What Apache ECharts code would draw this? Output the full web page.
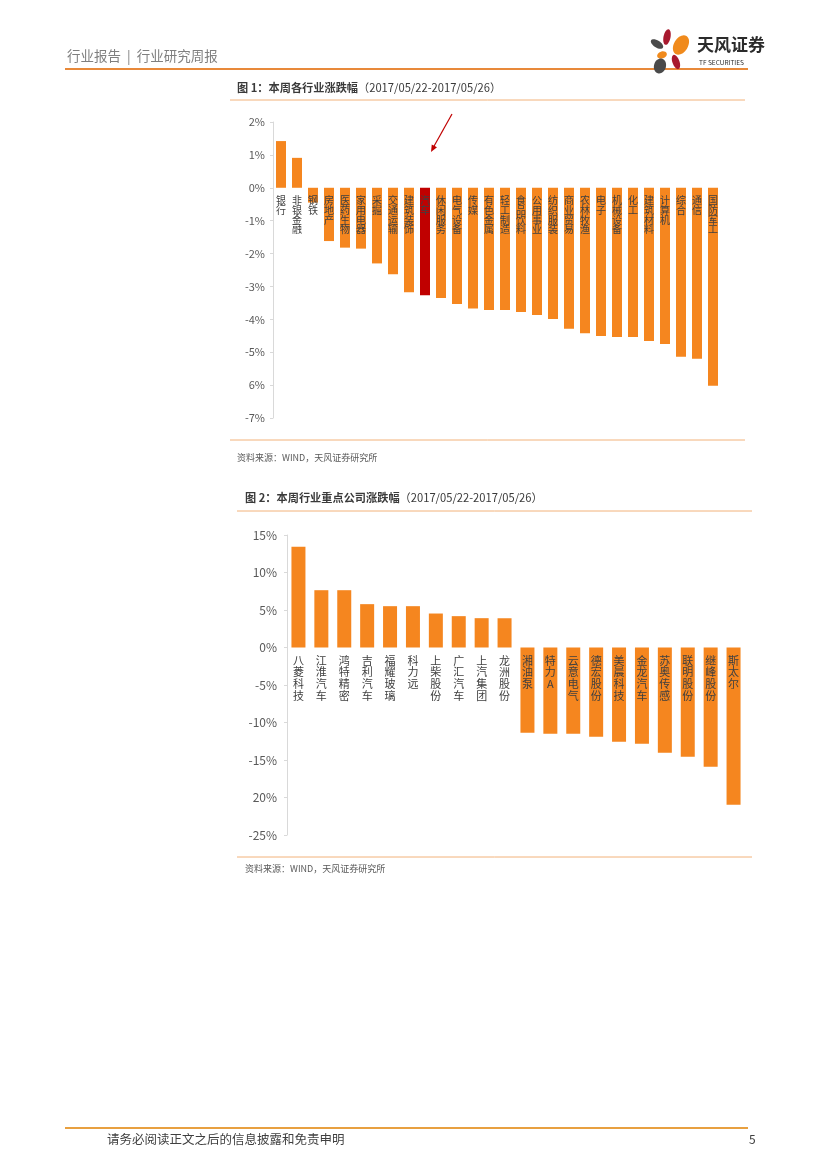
<!DOCTYPE html>
<html>
<head>
<meta charset="utf-8">
<script src="https://cdn.jsdelivr.net/npm/echarts@6/dist/echarts.min.js"></script>
<style>
html,body{margin:0;padding:0;background:#fff;}
#main{width:827px;height:1169px;}
</style>
</head>
<body>
<div id="main"></div>
<script>
// ---- Figure 1 data ----
const industryNames = ['银行','非银金融','钢铁','房地产','医药生物','家用电器','采掘','交通运输','建筑装饰','汽车','休闲服务','电气设备','传媒','有色金属','轻工制造','食品饮料','公用事业','纺织服装','商业贸易','农林牧渔','电子','机械设备','化工','建筑材料','计算机','综合','通信','国防军工'];
const industryChanges = [1.42,0.91,-0.45,-1.62,-1.82,-1.85,-2.30,-2.63,-3.18,-3.27,-3.35,-3.53,-3.67,-3.72,-3.72,-3.78,-3.87,-3.99,-4.29,-4.42,-4.51,-4.54,-4.54,-4.66,-4.75,-5.14,-5.20,-6.02];
const highlightIndustry = '汽车';
const fig1TickLabels = {'2':'2%','1':'1%','0':'0%','-1':'-1%','-2':'-2%','-3':'-3%','-4':'-4%','-5':'-5%','-6':'6%','-7':'-7%'};
const fig1Min = -7, fig1Max = 2;

// ---- Figure 2 data ----
const companyNames = ['八菱科技','江淮汽车','鸿特精密','吉利汽车','福耀玻璃','科力远','上柴股份','广汇汽车','上汽集团','龙洲股份','湘油泵','特力A','云意电气','德宏股份','美晨科技','金龙汽车','苏奥传感','联明股份','继峰股份','斯太尔'];
const companyChanges = [13.42,7.64,7.64,5.78,5.51,5.51,4.53,4.18,3.91,3.90,-11.38,-11.51,-11.51,-11.91,-12.58,-12.84,-14.04,-14.58,-15.91,-20.98];
const fig2TickLabels = {'15':'15%','10':'10%','5':'5%','0':'0%','-5':'-5%','-10':'-10%','-15':'-15%','-20':'20%','-25':'-25%'};
const fig2Min = -25, fig2Max = 15;

const ORANGE = '#F5861F';
const RED = '#C00000';
const FONT = '"Noto Sans CJK SC", "Noto Sans", sans-serif';
const vert = s => s.split('').join('\n');

const G1 = {left:273, top:122, width:448, height:296};
const G2 = {left:287, top:535, width:458, height:300};
// move the category axis up to the zero line
const off1 = -(0 - fig1Min) / (fig1Max - fig1Min) * G1.height;
const off2 = -(0 - fig2Min) / (fig2Max - fig2Min) * G2.height;

const chart = echarts.init(document.getElementById('main'), null, {renderer:'canvas'});

function arrowHead(x1,y1,x2,y2,len,half){
  const dx=x2-x1, dy=y2-y1, L=Math.sqrt(dx*dx+dy*dy);
  const ux=dx/L, uy=dy/L, px=-uy, py=ux;
  const bx=x2-ux*len, by=y2-uy*len;
  return [[x2,y2],[bx+px*half,by+py*half],[bx-px*half,by-py*half]];
}

const option = {
  backgroundColor:'#fff',
  animation:false,
  textStyle:{fontFamily:FONT},
  grid:[
    Object.assign({containLabel:false}, G1),
    Object.assign({containLabel:false}, G2)
  ],
  xAxis:[
    {type:'category', gridIndex:0, data:industryNames, z:5, position:'bottom', offset:off1,
     axisLine:{show:false, onZero:false}, axisTick:{show:false},
     axisLabel:{interval:0, margin:8, color:'#404040', fontSize:10, lineHeight:9.6, verticalAlign:'top', formatter:vert, fontFamily:FONT}},
    {type:'category', gridIndex:1, data:companyNames, z:5, position:'bottom', offset:off2,
     axisLine:{show:false, onZero:false}, axisTick:{show:false},
     axisLabel:{interval:0, margin:7, color:'#404040', fontSize:11, lineHeight:11.8, verticalAlign:'top', formatter:vert, fontFamily:FONT}}
  ],
  yAxis:[
    {type:'value', gridIndex:0, min:fig1Min, max:fig1Max, interval:1,
     axisLine:{show:true, lineStyle:{color:'#D9D9D9'}},
     axisTick:{show:true, length:3, lineStyle:{color:'#D9D9D9'}},
     splitLine:{show:false},
     axisLabel:{margin:8, color:'#595959', fontSize:11, formatter:v=>fig1TickLabels[String(v)]||''}},
    {type:'value', gridIndex:1, min:fig2Min, max:fig2Max, interval:5,
     axisLine:{show:true, lineStyle:{color:'#D9D9D9'}},
     axisTick:{show:true, length:3, lineStyle:{color:'#D9D9D9'}},
     splitLine:{show:false},
     axisLabel:{margin:10, color:'#595959', fontSize:12, formatter:v=>fig2TickLabels[String(v)]||''}}
  ],
  series:[
    {type:'bar', xAxisIndex:0, yAxisIndex:0, barWidth:10, z:2,
     data:industryChanges.map((v,i)=>({value:v, itemStyle:{color: industryNames[i]===highlightIndustry?RED:ORANGE}}))},
    {type:'bar', xAxisIndex:1, yAxisIndex:1, barWidth:14, z:2, itemStyle:{color:ORANGE},
     data:companyChanges}
  ],
  graphic:[
    // header
    {type:'text', left:67, top:49, style:{text:'行业报告  |  行业研究周报', fill:'#7F7F7F', font:'13.5px '+FONT}},
    {type:'line', shape:{x1:65,y1:69,x2:748,y2:69}, style:{stroke:'#E8893A', lineWidth:2}},
    // logo petals
    {type:'ellipse', shape:{cx:0,cy:0,rx:3.5,ry:8}, x:667, y:37, rotation:-0.2, style:{fill:'#A8192E'}},
    {type:'ellipse', shape:{cx:0,cy:0,rx:7,ry:10.5}, x:681, y:45, rotation:-0.55, style:{fill:'#F08A1C'}},
    {type:'ellipse', shape:{cx:0,cy:0,rx:3.5,ry:7}, x:657, y:44, rotation:1.0, style:{fill:'#4A4A4A'}},
    {type:'ellipse', shape:{cx:0,cy:0,rx:5,ry:3.5}, x:662, y:55, rotation:0.3, style:{fill:'#F08A1C'}},
    {type:'ellipse', shape:{cx:0,cy:0,rx:3.5,ry:7.5}, x:676, y:62, rotation:0.35, style:{fill:'#A8192E'}},
    {type:'ellipse', shape:{cx:0,cy:0,rx:6,ry:7.5}, x:660, y:66, rotation:-0.3, style:{fill:'#4A4A4A'}},
    {type:'text', left:697, top:36, style:{text:'天风证券', fill:'#2B2B2B', font:'bold 17px '+FONT}},
    {type:'text', left:699, top:59, style:{text:'TF SECURITIES', fill:'#2B2B2B', font:'6.5px '+FONT}},
    // figure 1 title and frame
    {type:'text', left:237, top:82, style:{
      text:'{b|图 1：本周各行业涨跌幅}{n|（2017/05/22-2017/05/26）}',
      rich:{b:{fontSize:11.2, fontWeight:'bold', fill:'#3A3A3A', fontFamily:FONT}, n:{fontSize:11.2, fill:'#3A3A3A', fontFamily:FONT}}}},
    {type:'line', shape:{x1:230,y1:100,x2:745,y2:100}, style:{stroke:'#F2B27A', lineWidth:1}},
    {type:'line', shape:{x1:230,y1:440,x2:745,y2:440}, style:{stroke:'#F2B27A', lineWidth:1}},
    {type:'text', left:237, top:453, style:{text:'资料来源：WIND，天风证券研究所', fill:'#595959', font:'9px '+FONT}},
    // arrow
    {type:'line', shape:{x1:452,y1:114,x2:433,y2:148}, style:{stroke:RED, lineWidth:1.2}},
    {type:'polygon', shape:{points:arrowHead(452,114,431,152,7,3)}, style:{fill:RED}},
    // figure 2 title and frame
    {type:'text', left:245, top:492, style:{
      text:'{b|图 2：本周行业重点公司涨跌幅}{n|（2017/05/22-2017/05/26）}',
      rich:{b:{fontSize:11.2, fontWeight:'bold', fill:'#3A3A3A', fontFamily:FONT}, n:{fontSize:11.2, fill:'#3A3A3A', fontFamily:FONT}}}},
    {type:'line', shape:{x1:237,y1:511,x2:752,y2:511}, style:{stroke:'#F2B27A', lineWidth:1}},
    {type:'line', shape:{x1:237,y1:857,x2:752,y2:857}, style:{stroke:'#F2B27A', lineWidth:1}},
    {type:'text', left:245, top:864, style:{text:'资料来源：WIND，天风证券研究所', fill:'#595959', font:'9px '+FONT}},
    // footer
    {type:'line', shape:{x1:65,y1:1128,x2:748,y2:1128}, style:{stroke:'#E8A040', lineWidth:2}},
    {type:'text', left:107, top:1133, style:{text:'请务必阅读正文之后的信息披露和免责申明', fill:'#404040', font:'12.5px '+FONT}},
    {type:'text', left:749, top:1133, style:{text:'5', fill:'#404040', font:'12px '+FONT}}
  ]
};
chart.setOption(option);
</script>
</body>
</html>
